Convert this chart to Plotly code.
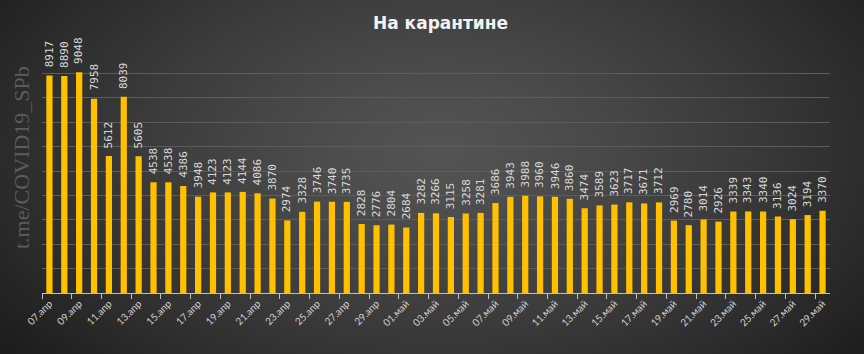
import base64, struct, zlib
import numpy as np
import plotly.graph_objects as go

dates = (["%02d.апр" % d for d in range(7, 31)] + ["%02d.май" % d for d in range(1, 30)])
values = [8917, 8890, 9048, 7958, 5612, 8039, 5605, 4538, 4538, 4386,
          3948, 4123, 4123, 4144, 4086, 3870, 2974, 3328, 3746, 3740,
          3735, 2828, 2776, 2804, 2684, 3282, 3266, 3115, 3258, 3281,
          3686, 3943, 3988, 3960, 3946, 3860, 3474, 3589, 3623, 3717,
          3671, 3712, 2969, 2780, 3014, 2926, 3339, 3343, 3340, 3136,
          3024, 3194, 3370]
title_text = "На карантине"
watermark = "t.me/COVID19_SPb"

W, H = 864, 354
ML, MR, MT, MB = 42, 34, 49, 61
PW, PH = W - ML - MR, H - MT - MB

# radial gradient background as PNG
def make_png(w, h):
    ys, xs = np.mgrid[0:h, 0:w].astype(float)
    sx, sy = W / w, H / h
    X, Y = xs * sx, ys * sy
    d = np.sqrt(((X - 440) / 560) ** 2 + ((Y - 150) / 330) ** 2)
    d = np.clip(d, 0, 1)
    c = 0x54 + (0x1c - 0x54) * d ** 1.3
    img = np.clip(c, 0, 255).astype(np.uint8)
    rgb = np.stack([img, img, img], axis=-1)
    raw = b"".join(b"\x00" + rgb[r].tobytes() for r in range(h))
    def chunk(t, data):
        return (struct.pack(">I", len(data)) + t + data +
                struct.pack(">I", zlib.crc32(t + data) & 0xffffffff))
    png = b"\x89PNG\r\n\x1a\n"
    png += chunk(b"IHDR", struct.pack(">IIBBBBB", w, h, 8, 2, 0, 0, 0))
    png += chunk(b"IDAT", zlib.compress(raw, 9))
    png += chunk(b"IEND", b"")
    return "data:image/png;base64," + base64.b64encode(png).decode()

bg = make_png(W // 2, H // 2)

x = list(range(len(values)))

fig = go.Figure()
fig.add_trace(go.Bar(
    x=x, y=values,
    marker=dict(color="#FFC000", line=dict(width=0)),
    width=0.42,
    hoverinfo="skip",
))

annotations = [
    dict(text="<b>" + title_text + "</b>", xref="paper", yref="paper",
         x=(440 - ML) / PW, y=1 + (MT - 23) / PH, xanchor="center", yanchor="middle",
         showarrow=False, font=dict(family="DejaVu Sans", size=17, color="#f2f2f2")),
    dict(text=watermark, xref="paper", yref="paper",
         x=(21 - ML) / PW, y=1 - (158 - MT) / PH, xanchor="center", yanchor="middle",
         textangle=-90, showarrow=False,
         font=dict(family="Liberation Serif", size=22, color="#5c5c5c")),
]
for xi, v in zip(x, values):
    annotations.append(dict(
        x=xi, y=v, xref="x", yref="y", text=str(v), textangle=-90,
        xanchor="center", yanchor="bottom", yshift=6, showarrow=False,
        font=dict(family="DejaVu Sans Mono", size=11, color="#d9d9d9"),
    ))

fig.update_layout(
    width=W, height=H,
    margin=dict(l=ML, r=MR, t=MT, b=MB),
    paper_bgcolor="#2e2e2e",
    plot_bgcolor="rgba(0,0,0,0)",
    showlegend=False,
    images=[dict(source=bg, xref="paper", yref="paper",
                 x=-ML / PW, y=1 + MT / PH,
                 sizex=W / PW, sizey=H / PH,
                 xanchor="left", yanchor="top",
                 sizing="stretch", layer="below")],
    annotations=annotations,
)

fig.update_xaxes(
    range=[-0.5, len(values) - 0.5],
    tickmode="array",
    tickvals=x[::2], ticktext=dates[::2],
    tickangle=-45,
    ticks="",
    tickfont=dict(family="Lato", size=10, color="#d0d0d0"),
    showgrid=False, zeroline=False,
    showline=True, linecolor="#bfbfbf", linewidth=1,
    minor=dict(ticks="outside", tick0=-0.5, dtick=2, ticklen=5,
               tickcolor="#bfbfbf", tickwidth=1, showgrid=False),
)
fig.update_yaxes(
    range=[0, 10000],
    tickmode="linear", tick0=0, dtick=1000,
    showticklabels=False,
    showgrid=True, gridcolor="#5c5c5c", gridwidth=1,
    zeroline=False, showline=False,
)

fig.write_html("out.html")
